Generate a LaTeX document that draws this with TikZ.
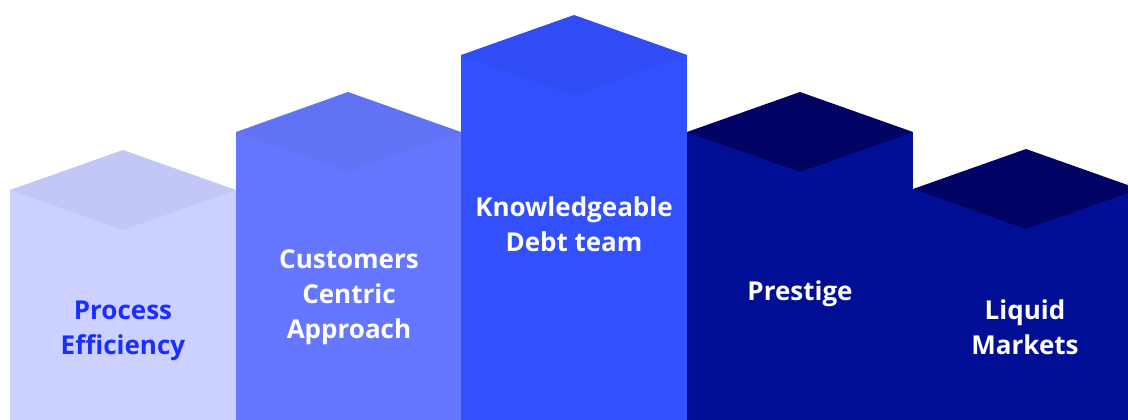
\documentclass[tikz,border=0pt]{standalone}
\usepackage{fontspec}
\setmainfont{Open Sans}
\usepackage{tikz}
\usetikzlibrary{positioning}
\usetikzlibrary{calc}
\definecolor{paleside}{HTML}{CCD1FF}
\definecolor{paletop}{HTML}{C3C7F5}
\definecolor{midside}{HTML}{6677FF}
\definecolor{midtop}{HTML}{6173F5}
\definecolor{brightside}{HTML}{3350FF}
\definecolor{brighttop}{HTML}{2F4CF5}
\definecolor{navyside}{HTML}{000F96}
\definecolor{navytop}{HTML}{000363}
\definecolor{labelblue}{HTML}{1A2EFF}
\tikzstyle{label} = [align=center, font=\fontsize{26}{35}\selectfont\bfseries, inner sep=0pt]
\tikzstyle{pale} = [label, text=labelblue]
\tikzstyle{light} = [label, text=white]

\begin{document}
\begin{tikzpicture}[x=1pt,y=-1pt]
    \useasboundingbox (0,0) rectangle (1128,420);
    \clip (0,0) rectangle (1128,420);
    % column bodies
    \fill [paleside] (10,190) rectangle (236,420);
    \fill [midside] (236,132) rectangle (461,420);
    \fill [brightside] (461,55) rectangle (687,420);
    \fill [navyside] (687,132) rectangle (913,420);
    \fill [navyside] (913,189) rectangle (1139,420);
    % top faces
    \fill [paletop] (10,190) -- (123,150) -- (236,190) -- (123,230) -- cycle;
    \fill [midtop] (236,132) -- (348,92) -- (461,132) -- (348,172) -- cycle;
    \fill [brighttop] (461,55) -- (574,15) -- (687,55) -- (574,95) -- cycle;
    \fill [navytop] (687,132) -- (800,92) -- (913,132) -- (800,172) -- cycle;
    \fill [navytop] (913,189) -- (1026,149) -- (1139,189) -- (1026,229) -- cycle;

    \node [pale] (process) at (123,331) {Process\\Efficiency};
    \node [light] (customers) at (349,297) {Customers\\Centric\\Approach};
    \node [light] (debt) at (574,224) {Knowledgeable\\Debt team};
    \node [light] (prestige) at (800,294) {Prestige};
    \node [light] (markets) at (1025,327) {Liquid\\Markets};
\end{tikzpicture}
\end{document}
